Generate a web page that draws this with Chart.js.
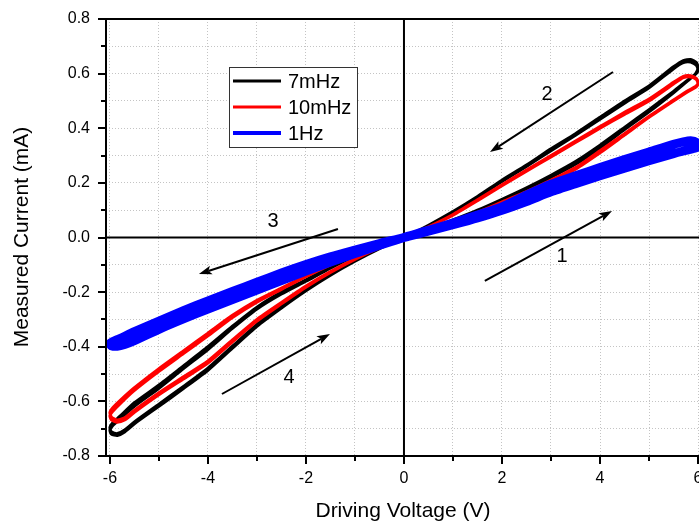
<!DOCTYPE html>
<html>
<head>
<meta charset="utf-8">
<title>Driving Voltage vs Measured Current</title>
<script src="https://cdn.jsdelivr.net/npm/chart.js@4.4.1/dist/chart.umd.min.js"></script>
<style>
  html, body { margin: 0; padding: 0; background: #fff; }
  #chart { display: block; }
</style>
</head>
<body>
<canvas id="chart" width="699" height="522"></canvas>
<script>
// tick positions (labels only on every other one)
const xTicks = [-6, -5, -4, -3, -2, -1, 0, 1, 2, 3, 4, 5, 6];
const yTicks = [-0.8, -0.7, -0.6, -0.5, -0.4, -0.3, -0.2, -0.1, 0, 0.1, 0.2, 0.3, 0.4, 0.5, 0.6, 0.7, 0.8];

// one voltage sweep: 0 -> +6 -> 0 -> -6 -> 0 (V)
const sweepV = [
  0, 0.5, 1, 1.5, 2, 2.5, 3, 3.5, 4, 4.5, 5, 5.5, 5.8, 5.95, 6, 5.97, 5.85, 5.7, 5.5, 5,
  4.5, 4, 3.5, 3, 2.5, 2, 1.5, 1, 0.5, 0,
  -0.5, -1, -1.5, -2, -2.5, -3, -3.5, -4, -4.5, -5, -5.5, -5.8, -5.95, -6, -5.97, -5.85, -5.7, -5.5, -5,
  -4.5, -4, -3.5, -3, -2.5, -2, -1.5, -1, -0.5, 0
];

// measured current (mA), two sweeps each for 7mHz and 10mHz, one for 1Hz
const i7mHzA = [
  0, 0.028, 0.06, 0.095, 0.135, 0.175, 0.22, 0.268, 0.328, 0.395, 0.46, 0.53, 0.575, 0.6, 0.62, 0.64, 0.652, 0.648, 0.625, 0.555,
  0.5, 0.44, 0.38, 0.325, 0.265, 0.21, 0.15, 0.095, 0.045, 0,
  -0.03, -0.065, -0.108, -0.155, -0.2, -0.255, -0.325, -0.4, -0.47, -0.54, -0.605, -0.655, -0.68, -0.695, -0.712, -0.718, -0.705, -0.675, -0.61,
  -0.545, -0.478, -0.398, -0.318, -0.252, -0.19, -0.135, -0.085, -0.04, 0
];
const i7mHzB = [
  0, 0.03, 0.064, 0.1, 0.14, 0.182, 0.228, 0.278, 0.338, 0.403, 0.468, 0.535, 0.578, 0.598, 0.612, 0.63, 0.642, 0.64, 0.618, 0.548,
  0.492, 0.433, 0.374, 0.318, 0.26, 0.205, 0.147, 0.093, 0.044, 0,
  -0.032, -0.068, -0.112, -0.16, -0.207, -0.262, -0.333, -0.41, -0.48, -0.552, -0.618, -0.665, -0.69, -0.705, -0.72, -0.725, -0.712, -0.682, -0.618,
  -0.553, -0.486, -0.405, -0.325, -0.258, -0.195, -0.138, -0.087, -0.041, 0
];
const i10mHzA = [
  0, 0.025, 0.055, 0.088, 0.125, 0.163, 0.205, 0.25, 0.31, 0.375, 0.44, 0.5, 0.535, 0.55, 0.562, 0.578, 0.588, 0.585, 0.562, 0.5,
  0.451, 0.4, 0.348, 0.295, 0.243, 0.19, 0.135, 0.082, 0.038, 0,
  -0.028, -0.06, -0.098, -0.14, -0.185, -0.23, -0.285, -0.35, -0.415, -0.48, -0.55, -0.598, -0.625, -0.64, -0.657, -0.668, -0.66, -0.632, -0.568,
  -0.51, -0.452, -0.375, -0.3, -0.238, -0.178, -0.125, -0.078, -0.036, 0
];
const i10mHzB = [
  0, 0.027, 0.058, 0.092, 0.13, 0.168, 0.21, 0.256, 0.318, 0.38, 0.444, 0.503, 0.538, 0.553, 0.565, 0.582, 0.592, 0.59, 0.568, 0.507,
  0.458, 0.406, 0.353, 0.3, 0.247, 0.193, 0.138, 0.084, 0.039, 0,
  -0.029, -0.062, -0.1, -0.143, -0.19, -0.237, -0.293, -0.36, -0.425, -0.49, -0.56, -0.61, -0.638, -0.652, -0.668, -0.676, -0.668, -0.64, -0.576,
  -0.518, -0.46, -0.382, -0.306, -0.243, -0.182, -0.128, -0.08, -0.037, 0
];
const i1Hz = [
  0, 0.023, 0.047, 0.072, 0.1, 0.132, 0.167, 0.197, 0.226, 0.254, 0.281, 0.307, 0.321, 0.328, 0.331, 0.348, 0.354, 0.35, 0.341, 0.313,
  0.285, 0.256, 0.226, 0.195, 0.155, 0.112, 0.082, 0.053, 0.026, 0,
  -0.022, -0.046, -0.071, -0.099, -0.13, -0.164, -0.198, -0.232, -0.268, -0.306, -0.345, -0.37, -0.382, -0.388, -0.396, -0.398, -0.392, -0.378, -0.336,
  -0.298, -0.262, -0.227, -0.192, -0.158, -0.123, -0.09, -0.059, -0.028, 0
];

// arrows (data coords) and their numbers
const arrowFrom = [[1.65, -0.159], [4.265, 0.606], [-1.347, 0.031], [-3.714, -0.573]];
const arrowTo = [[4.245, 0.097], [1.755, 0.313], [-4.184, -0.134], [-1.51, -0.353]];
const arrowText = ['1', '2', '3', '4'];
const arrowTextAt = [[3.224, -0.071], [2.918, 0.522], [-2.673, 0.06], [-2.347, -0.511]];

const FONT = '"Liberation Sans", Arial, sans-serif';

function toPoints(vs, ...runs) {
  const pts = [];
  runs.forEach(run => run.forEach((c, k) => pts.push({ x: vs[k], y: c })));
  return pts;
}

function drawArrow(ctx, x1, y1, x2, y2) {
  const ang = Math.atan2(y2 - y1, x2 - x1);
  const len = 13, half = 4.5;
  const bx = x2 - len * Math.cos(ang), by = y2 - len * Math.sin(ang);
  ctx.beginPath();
  ctx.moveTo(x1, y1);
  ctx.lineTo(bx + 3 * Math.cos(ang), by + 3 * Math.sin(ang));
  ctx.stroke();
  ctx.beginPath();
  ctx.moveTo(x2, y2);
  ctx.lineTo(bx - half * Math.sin(ang), by + half * Math.cos(ang));
  ctx.lineTo(bx + 3 * Math.cos(ang), by + 3 * Math.sin(ang));
  ctx.lineTo(bx + half * Math.sin(ang), by - half * Math.cos(ang));
  ctx.closePath();
  ctx.fill();
}

// frame, zero lines, tick marks, arrows, legend and axis titles
const decor = {
  id: 'decor',
  beforeDatasetsDraw(chart) {
    const { ctx, chartArea: a, scales: { x, y } } = chart;
    const x0 = x.getPixelForValue(0), y0 = y.getPixelForValue(0);
    ctx.save();
    ctx.strokeStyle = '#000';
    ctx.lineWidth = 2;
    ctx.beginPath();
    ctx.moveTo(x0, a.top); ctx.lineTo(x0, a.bottom);
    ctx.moveTo(a.left, y0); ctx.lineTo(a.right, y0);
    ctx.stroke();
    ctx.restore();
  },
  afterDraw(chart) {
    const { ctx, chartArea: a, scales: { x, y } } = chart;
    ctx.save();
    ctx.strokeStyle = '#000';
    ctx.fillStyle = '#000';
    ctx.lineWidth = 2;

    // frame (right side is cut off in the original)
    ctx.beginPath();
    ctx.moveTo(a.right, a.top); ctx.lineTo(a.left, a.top);
    ctx.lineTo(a.left, a.bottom); ctx.lineTo(a.right, a.bottom);
    ctx.stroke();

    // outward ticks, long on labelled values
    ctx.beginPath();
    yTicks.forEach(v => {
      const py = Math.round(y.getPixelForValue(v));
      const major = Math.round(v * 10) % 2 === 0;
      ctx.moveTo(a.left, py); ctx.lineTo(a.left - (major ? 8 : 5), py);
    });
    xTicks.forEach(v => {
      const px = Math.round(x.getPixelForValue(v));
      const major = v % 2 === 0;
      ctx.moveTo(px, a.bottom); ctx.lineTo(px, a.bottom + (major ? 8 : 5));
    });
    ctx.stroke();

    // arrows + numbers
    ctx.lineWidth = 2;
    arrowFrom.forEach((f, k) => {
      const t = arrowTo[k];
      drawArrow(ctx, x.getPixelForValue(f[0]), y.getPixelForValue(f[1]),
        x.getPixelForValue(t[0]), y.getPixelForValue(t[1]));
    });
    ctx.font = '20px ' + FONT;
    ctx.textAlign = 'center';
    ctx.textBaseline = 'middle';
    arrowText.forEach((s, k) => {
      ctx.fillText(s, x.getPixelForValue(arrowTextAt[k][0]), y.getPixelForValue(arrowTextAt[k][1]));
    });

    // legend box
    const lx = 229, ly = 67, lw = 128, lh = 80, row = 26;
    ctx.fillStyle = '#fff';
    ctx.fillRect(lx, ly, lw, lh);
    ctx.lineWidth = 1;
    ctx.strokeStyle = '#333';
    ctx.strokeRect(lx + 0.5, ly + 0.5, lw, lh);
    ctx.textAlign = 'left';
    ctx.font = '20px ' + FONT;
    chart.data.datasets.forEach((ds, k) => {
      const cy = ly + 14 + k * row;
      ctx.strokeStyle = ds.borderColor;
      ctx.lineWidth = Math.min(ds.borderWidth, 4);
      ctx.beginPath();
      ctx.moveTo(lx + 4, cy); ctx.lineTo(lx + 52, cy);
      ctx.stroke();
      ctx.fillStyle = '#000';
      ctx.fillText(ds.label, lx + 59, cy + 1);
    });

    // axis titles
    ctx.fillStyle = '#000';
    ctx.font = '21px ' + FONT;
    ctx.textAlign = 'center';
    ctx.textBaseline = 'middle';
    ctx.fillText('Driving Voltage (V)', 403, 511);
    ctx.translate(22, 237);
    ctx.rotate(-Math.PI / 2);
    ctx.fillText('Measured Current (mA)', 0, 0);
    ctx.restore();
  }
};

const gridLine = {
  color: ctx => (ctx.tick && Math.abs(ctx.tick.value) < 1e-9) ? 'rgba(0,0,0,0)' : '#c4c4c4',
  lineWidth: 1,
  drawTicks: false,
};

new Chart(document.getElementById('chart'), {
  type: 'scatter',
  data: {
    datasets: [
      {
        label: '7mHz',
        data: toPoints(sweepV, i7mHzA, i7mHzB),
        borderColor: '#000000',
        borderWidth: 3,
        order: 2,
      },
      {
        label: '10mHz',
        data: toPoints(sweepV, i10mHzA, i10mHzB),
        borderColor: '#ff0000',
        borderWidth: 3,
        order: 1,
      },
      {
        label: '1Hz',
        data: toPoints(sweepV, i1Hz),
        borderColor: '#0000ff',
        borderWidth: 9,
        order: 0,
      },
    ].map(ds => ({ ...ds, showLine: true, pointRadius: 0, fill: false, tension: 0.2 })),
  },
  options: {
    responsive: false,
    animation: false,
    devicePixelRatio: 1,
    layout: { autoPadding: false, padding: { top: 19, left: 0, right: 0, bottom: 0 } },
    plugins: { legend: { display: false }, tooltip: { enabled: false } },
    scales: {
      x: {
        type: 'linear',
        min: -6.08,
        max: 6.02,
        afterBuildTicks: s => { s.ticks = xTicks.map(v => ({ value: v })); },
        afterFit: s => { s.height = 66; s.paddingLeft = 0; s.paddingRight = 0; },
        grid: gridLine,
        border: { display: false, dash: [1, 2] },
        ticks: {
          padding: 13,
          color: '#000',
          font: { family: FONT, size: 16 },
          maxRotation: 0,
          autoSkip: false,
          callback: v => (v % 2 === 0 ? String(v) : ''),
        },
      },
      y: {
        type: 'linear',
        min: -0.8,
        max: 0.8,
        afterBuildTicks: s => { s.ticks = yTicks.map(v => ({ value: v })); },
        afterFit: s => { s.width = 106; s.paddingTop = 0; s.paddingBottom = 0; },
        grid: gridLine,
        border: { display: false, dash: [1, 2] },
        ticks: {
          padding: 16,
          color: '#000',
          font: { family: FONT, size: 16 },
          autoSkip: false,
          callback: v => (Math.round(v * 10) % 2 === 0 ? v.toFixed(1) : ''),
        },
      },
    },
  },
  plugins: [decor],
});
</script>
</body>
</html>
